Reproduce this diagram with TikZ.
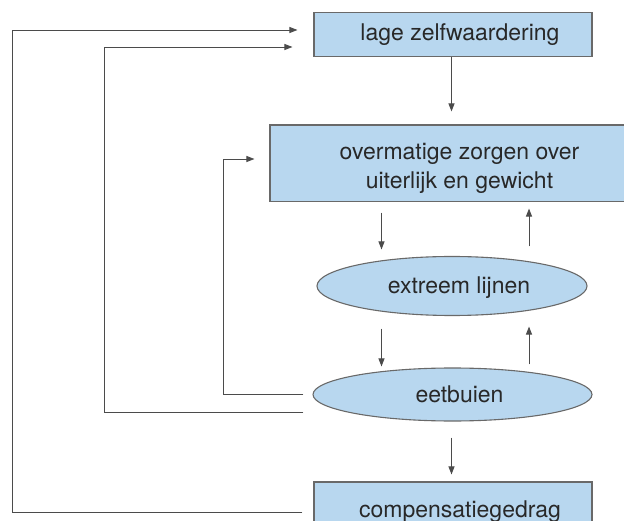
\documentclass[tikz,border=0pt]{standalone}
\usepackage{fontspec}
\setmainfont{TeX Gyre Heros}
\usetikzlibrary{arrows.meta,shapes.geometric}
\definecolor{boxfill}{RGB}{184,215,239}
\definecolor{boxline}{RGB}{105,105,105}
\definecolor{conn}{RGB}{75,75,75}
\definecolor{txt}{RGB}{40,40,40}
\newcommand{\rs}{\hspace*{14pt}}
\tikzset{
  blok/.style={rectangle, draw=boxline, fill=boxfill, line width=1.1pt, inner sep=0pt,
    text=txt, font=\fontsize{23}{29}\selectfont, align=center},
  ovaal/.style={ellipse, draw=boxline, fill=boxfill, line width=1.1pt, inner sep=0pt,
    text=txt, font=\fontsize{23}{29}\selectfont, text height=16pt, text depth=0pt},
  pijl/.style={draw=conn, line width=0.9pt, -{Triangle[length=8pt,width=6pt]}}
}
\begin{document}
\begin{tikzpicture}[x=1pt,y=-1pt]
\useasboundingbox (0,0) rectangle (624,521);
\node[blok, minimum width=278pt, minimum height=44pt, text height=28pt, text depth=16pt] (top) at (453,34.5) {\rs lage zelfwaardering};
\node[blok, minimum width=379pt, minimum height=76.5pt, text height=63.3pt, text depth=13.2pt] (box2) at (459.5,163.25) {overmatige zorgen over\\uiterlijk en gewicht};
\node[ovaal, minimum width=270pt, minimum height=59pt] (ell1) at (452,286) {\rs extreem lijnen};
\node[ovaal, minimum width=279pt, minimum height=53pt] (ell2) at (452.5,394.5) {\rs eetbuien};
\node[blok, minimum width=278pt, minimum height=58pt, text height=35.3pt, text depth=22.7pt] (bot) at (453,511) {\rs compensatiegedrag};

\coordinate (xL) at (381.5,0);
\coordinate (xR) at (529,0);
\coordinate (xM) at (451.5,0);
\coordinate (cI) at (223,159);
\coordinate (cM) at (104,47);
\coordinate (cO) at (12,30);

% vertical arrows
\draw[pijl, shorten >=13pt] (xM |- top.south) -- (xM |- box2.north);
\draw[pijl, shorten <=10.5pt, shorten >=6.5pt] (xL |- box2.south) -- (xL |- ell1.north);
\draw[pijl, shorten <=9.5pt, shorten >=6.5pt] (xR |- ell1.north) -- (xR |- box2.south);
\draw[pijl, shorten <=12.5pt, shorten >=1pt] (xL |- ell1.south) -- (xL |- ell2.north);
\draw[pijl, shorten <=3pt, shorten >=10.5pt] (xR |- ell2.north) -- (xR |- ell1.south);
\draw[pijl, shorten <=16pt, shorten >=7pt] (xM |- ell2.south) -- (xM |- bot.north);

% feedback loops
\draw[pijl, shorten >=15pt] ([xshift=-9pt]ell2.west) -| (cI) -- (cI -| box2.west);
\draw[pijl, shorten >=21pt] ([xshift=-9pt,yshift=-17.5pt]ell2.west) -| (cM) -- (cM -| top.west);
\draw[pijl, shorten >=16pt] ([xshift=-11pt,yshift=-1.5pt]bot.west) -| (cO) -- (cO -| top.west);
\end{tikzpicture}
\end{document}
